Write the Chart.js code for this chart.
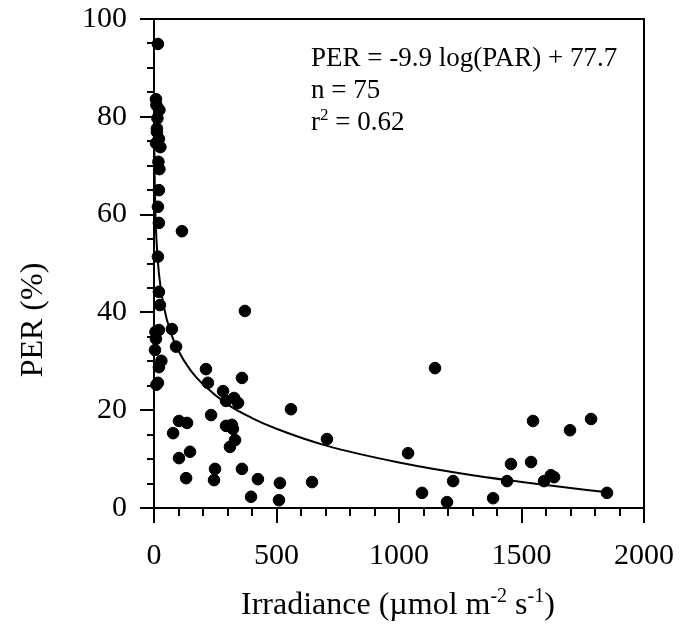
<!DOCTYPE html>
<html>
<head>
<meta charset="utf-8">
<script src="https://cdn.jsdelivr.net/npm/chart.js@4.4.1/dist/chart.umd.min.js"></script>
<style>
  html, body { margin: 0; padding: 0; background: #ffffff; }
</style>
</head>
<body>
<canvas id="miGrafico" width="688" height="625"></canvas>
<script>
/* datos: irradiancia (umol m-2 s-1) y PER (%) */
const irradiancia = [
  16, 8, 10, 22, 14, 12, 20, 26, 8, 12, 18, 22, 20, 16, 20,
  114, 16, 20, 24, 20, 8, 4, 30, 20, 16, 10, 6, 73, 90,
  371, 212, 220, 359, 282, 294, 327, 343, 233, 102, 135, 78, 294, 318, 322, 331, 310,
  102, 147, 131, 249, 245, 359, 424, 396,
  559, 706, 1147, 1037, 514, 510, 645, 1094, 1196,
  1221, 1384, 1441, 1457, 1539, 1547, 1592, 1620, 1633, 1698, 1784, 1849
];
const per = [
  94.9, 83.6, 82.4, 81.4, 79.7, 76.9, 75.5, 73.8, 74.6, 77.6, 70.8, 69.3, 65.0, 61.6, 58.3,
  56.6, 51.4, 44.2, 41.5, 36.4, 34.6, 32.3, 30.1, 28.8, 25.6, 25.2, 36.0, 36.6, 33.0,
  40.3, 28.4, 25.6, 26.6, 23.9, 21.9, 22.5, 21.5, 19.0, 17.8, 17.4, 15.3, 16.8, 17.0, 16.2, 13.9, 12.5,
  10.2, 11.5, 6.1, 8.0, 5.7, 8.0, 5.9, 2.3,
  20.2, 14.1, 28.6, 11.2, 5.1, 1.6, 5.3, 3.1, 1.2,
  5.5, 2.0, 5.5, 9.0, 9.4, 17.8, 5.5, 6.7, 6.3, 15.9, 18.2, 3.1
];

/* curva de ajuste, puntos leidos sobre la linea */
const curvaX = [1, 2, 5, 10, 20, 40, 70, 100, 150, 200, 300, 400, 500, 700, 1000, 1300, 1600, 1850];
const curvaY = [77.7, 70.8, 61.8, 54.9, 48.0, 41.2, 35.6, 32.1, 28.1, 25.3, 21.2, 18.4, 16.2, 12.8, 9.3, 6.7, 4.7, 3.2];

/* textos */
const tituloX = ["Irradiance (\u00b5mol m", "-2", " s", "-1", ")"];
const tituloY = "PER (%)";
const ecuacion = "PER = -9.9 log(PAR) + 77.7";
const lineaN = "n = 75";
const lineaR = ["r", "2", " = 0.62"];

const fuente = "'Liberation Serif', 'Times New Roman', serif";

// dibuja un texto con partes en superindice (las partes impares)
function textoConSuper(ctx, partes, x, y, tam) {
    let posX = x;
    partes.forEach((parte, i) => {
        if (i % 2 === 1) {
            ctx.font = Math.round(tam * 0.62) + "px " + fuente;
            ctx.fillText(parte, posX, y - tam * 0.38);
        } else {
            ctx.font = tam + "px " + fuente;
            ctx.fillText(parte, posX, y);
        }
        posX += ctx.measureText(parte).width;
    });
    return posX - x;
}

// plugin: marco, marcas de los ejes y textos
const marcoYTextos = {
    id: "marcoYTextos",
    afterDraw(chart) {
        const ctx = chart.ctx;
        const area = chart.chartArea;
        const ejeX = chart.scales.x;
        const ejeY = chart.scales.y;
        ctx.save();
        ctx.strokeStyle = "#000";
        ctx.fillStyle = "#000";
        ctx.lineWidth = 2;

        // marco
        ctx.strokeRect(area.left, area.top, area.right - area.left, area.bottom - area.top);

        // marcas eje y (cada 5, largas cada 20)
        for (let v = 0; v <= 100; v += 5) {
            const py = Math.round(ejeY.getPixelForValue(v));
            const largo = (v % 20 === 0) ? 14 : 7;
            ctx.beginPath();
            ctx.moveTo(area.left, py);
            ctx.lineTo(area.left - largo, py);
            ctx.stroke();
        }
        // marcas eje x (cada 100, largas cada 500)
        for (let v = 0; v <= 2000; v += 100) {
            const px = Math.round(ejeX.getPixelForValue(v));
            const largo = (v % 500 === 0) ? 15 : 8;
            ctx.beginPath();
            ctx.moveTo(px, area.bottom);
            ctx.lineTo(px, area.bottom + largo);
            ctx.stroke();
        }

        // titulo eje x
        ctx.textBaseline = "alphabetic";
        ctx.textAlign = "left";
        textoConSuper(ctx, tituloX, 241, 614, 32);

        // titulo eje y
        ctx.save();
        ctx.translate(42, 320);
        ctx.rotate(-Math.PI / 2);
        ctx.font = "32px " + fuente;
        ctx.textAlign = "center";
        ctx.fillText(tituloY, 0, 0);
        ctx.restore();

        // ecuacion
        ctx.font = "27px " + fuente;
        ctx.fillText(ecuacion, 311, 66);
        ctx.fillText(lineaN, 311, 98);
        textoConSuper(ctx, lineaR, 311, 130, 27);

        ctx.restore();
    }
};

function crearGrafico() {
    const puntos = irradiancia.map((x, i) => ({ x: x, y: per[i] }));
    const curva = curvaX.map((x, i) => ({ x: x, y: curvaY[i] }));

    const config = {
        type: "scatter",
        data: {
            datasets: [
                {
                    label: "PER",
                    data: puntos,
                    backgroundColor: "#000",
                    borderColor: "#000",
                    pointRadius: 5.8,
                    pointHoverRadius: 5.8,
                    clip: false
                },
                {
                    label: "ajuste",
                    data: curva,
                    type: "line",
                    showLine: true,
                    borderColor: "#000",
                    borderWidth: 2,
                    pointRadius: 0,
                    fill: false,
                    cubicInterpolationMode: "monotone"
                }
            ]
        },
        options: {
            responsive: false,
            animation: false,
            devicePixelRatio: 1,
            layout: { padding: { top: 19, right: 44, left: 0, bottom: 0 } },
            plugins: {
                legend: { display: false },
                tooltip: { enabled: false }
            },
            scales: {
                x: {
                    type: "linear",
                    min: 0,
                    max: 2000,
                    grid: { display: false, drawTicks: false },
                    border: { display: false },
                    ticks: {
                        stepSize: 500,
                        maxRotation: 0,
                        padding: 30,
                        color: "#000",
                        font: { family: fuente, size: 30 },
                        callback: (valor) => String(valor)
                    },
                    afterFit: (eje) => {
                        eje.height = 117;
                        eje.paddingLeft = 0;
                        eje.paddingRight = 0;
                    }
                },
                y: {
                    type: "linear",
                    min: 0,
                    max: 100,
                    grid: { display: false, drawTicks: false },
                    border: { display: false },
                    ticks: {
                        stepSize: 20,
                        padding: 27,
                        color: "#000",
                        font: { family: fuente, size: 30 },
                        callback: (valor) => String(valor)
                    },
                    afterFit: (eje) => {
                        eje.width = 154;
                        eje.paddingTop = 0;
                        eje.paddingBottom = 0;
                    }
                }
            }
        },
        plugins: [marcoYTextos]
    };

    new Chart(document.getElementById("miGrafico"), config);
}

crearGrafico();
</script>
</body>
</html>
